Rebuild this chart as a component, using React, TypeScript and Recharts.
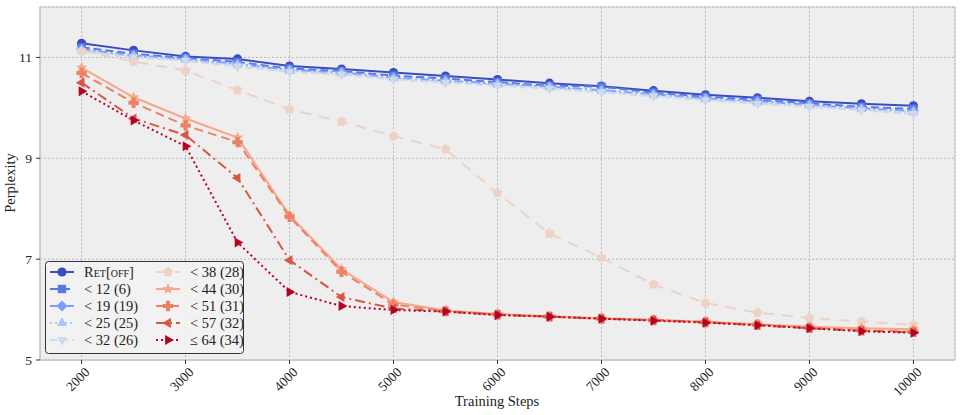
import React from 'react';
import { LineChart, Line, XAxis, YAxis, CartesianGrid, ReferenceArea } from 'recharts';

// training steps on the x axis
const steps = [2000, 2500, 3000, 3500, 4000, 4500, 5000, 5500, 6000, 6500, 7000, 7500, 8000, 8500, 9000, 9500, 10000];
const xTicks = [2000, 3000, 4000, 5000, 6000, 7000, 8000, 9000, 10000];
const yTicks = [5, 7, 9, 11];

// perplexity per series
const retOff = [11.28, 11.14, 11.02, 10.97, 10.83, 10.77, 10.7, 10.63, 10.56, 10.49, 10.43, 10.34, 10.26, 10.2, 10.13, 10.08, 10.04];
const lt12 = [11.2, 11.07, 10.99, 10.91, 10.78, 10.73, 10.64, 10.58, 10.51, 10.44, 10.42, 10.3, 10.22, 10.16, 10.09, 10.02, 9.98];
const lt19 = [11.16, 11.04, 10.97, 10.87, 10.75, 10.7, 10.6, 10.54, 10.48, 10.42, 10.35, 10.27, 10.19, 10.13, 10.06, 9.99, 9.94];
const lt25 = [11.14, 11.02, 10.95, 10.85, 10.73, 10.68, 10.58, 10.52, 10.46, 10.4, 10.33, 10.25, 10.17, 10.1, 10.04, 9.97, 9.91];
const lt32 = [11.12, 11.0, 10.93, 10.82, 10.71, 10.66, 10.56, 10.5, 10.44, 10.38, 10.31, 10.23, 10.15, 10.08, 10.02, 9.95, 9.88];
const lt38 = [11.12, 10.92, 10.74, 10.35, 9.97, 9.73, 9.44, 9.18, 8.31, 7.51, 7.03, 6.5, 6.13, 5.94, 5.83, 5.76, 5.7];
const lt44 = [10.8, 10.21, 9.79, 9.41, 7.87, 6.8, 6.15, 5.98, 5.91, 5.87, 5.83, 5.8, 5.76, 5.71, 5.66, 5.63, 5.61];
const lt51 = [10.69, 10.1, 9.65, 9.32, 7.84, 6.75, 6.1, 5.97, 5.9, 5.86, 5.82, 5.79, 5.75, 5.7, 5.64, 5.59, 5.56];
const lt57 = [10.5, 9.79, 9.46, 8.61, 6.98, 6.25, 6.02, 5.96, 5.9, 5.86, 5.82, 5.79, 5.75, 5.69, 5.63, 5.58, 5.55];
const le64 = [10.33, 9.75, 9.24, 7.33, 6.35, 6.07, 5.99, 5.96, 5.89, 5.86, 5.82, 5.78, 5.74, 5.69, 5.63, 5.57, 5.54];

type Shape = 'circle' | 'square' | 'diamond' | 'triUp' | 'triDown' | 'pentagon' | 'star' | 'plus' | 'triLeft' | 'triRight';

interface Series {
  key: string;
  label: React.ReactNode;
  values: number[];
  color: string;
  dash?: string;
  shape: Shape;
}

const SERIES: Series[] = [
  { key: 'retOff', label: <tspan style={{ fontVariant: 'small-caps' }}>Ret[off]</tspan>, values: retOff, color: '#3b4cc0', shape: 'circle' },
  { key: 'lt12', label: '< 12 (6)', values: lt12, color: '#5a78e4', dash: '8 4', shape: 'square' },
  { key: 'lt19', label: '< 19 (19)', values: lt19, color: '#7b9ff9', dash: '9 3 2 3', shape: 'diamond' },
  { key: 'lt25', label: '< 25 (25)', values: lt25, color: '#aac7fd', dash: '2 3', shape: 'triUp' },
  { key: 'lt32', label: '< 32 (26)', values: lt32, color: '#cfdaea', dash: '7 4', shape: 'triDown' },
  { key: 'lt38', label: '< 38 (28)', values: lt38, color: '#ecd3c5', dash: '11 8', shape: 'pentagon' },
  { key: 'lt44', label: '< 44 (30)', values: lt44, color: '#f6a789', shape: 'star' },
  { key: 'lt51', label: '< 51 (31)', values: lt51, color: '#ec8165', dash: '9 5', shape: 'plus' },
  { key: 'lt57', label: '< 57 (32)', values: lt57, color: '#d85646', dash: '10 4 2 4', shape: 'triLeft' },
  { key: 'le64', label: '\u2264 64 (34)', values: le64, color: '#b40426', dash: '2 3', shape: 'triRight' },
];

const data = steps.map((step, i) => {
  const row: Record<string, number> = { step };
  SERIES.forEach((s) => {
    row[s.key] = s.values[i];
  });
  return row;
});

const FONT = '"Liberation Serif", "DejaVu Serif", serif';

function poly(cx: number, cy: number, n: number, r: number, rot: number, inner?: number) {
  const pts: string[] = [];
  const count = inner ? n * 2 : n;
  for (let k = 0; k < count; k++) {
    const rad = inner && k % 2 === 1 ? inner : r;
    const a = rot + (k * 2 * Math.PI) / count;
    pts.push(`${cx + rad * Math.cos(a)},${cy + rad * Math.sin(a)}`);
  }
  return pts.join(' ');
}

function marker(shape: Shape, cx: number, cy: number, color: string) {
  const up = -Math.PI / 2;
  switch (shape) {
    case 'circle':
      return <circle cx={cx} cy={cy} r={4.6} fill={color} />;
    case 'square':
      return <rect x={cx - 4.2} y={cy - 4.2} width={8.4} height={8.4} fill={color} />;
    case 'diamond':
      return <polygon points={poly(cx, cy, 4, 5.6, up)} fill={color} />;
    case 'triUp':
      return <polygon points={poly(cx, cy, 3, 5.8, up)} fill={color} />;
    case 'triDown':
      return <polygon points={poly(cx, cy, 3, 5.8, Math.PI / 2)} fill={color} />;
    case 'triLeft':
      return <polygon points={poly(cx, cy, 3, 5.8, Math.PI)} fill={color} />;
    case 'triRight':
      return <polygon points={poly(cx, cy, 3, 5.8, 0)} fill={color} />;
    case 'pentagon':
      return <polygon points={poly(cx, cy, 5, 5.2, up)} fill={color} />;
    case 'star':
      return <polygon points={poly(cx, cy, 5, 6, up, 2.6)} fill={color} />;
    case 'plus': {
      const a = 5.2;
      const b = 2;
      const pts = [
        [-b, -a], [b, -a], [b, -b], [a, -b], [a, b], [b, b],
        [b, a], [-b, a], [-b, b], [-a, b], [-a, -b], [-b, -b],
      ].map(([dx, dy]) => `${cx + dx},${cy + dy}`).join(' ');
      return <polygon points={pts} fill={color} />;
    }
    default:
      return null;
  }
}

const XTick = ({ x, y, payload }: any) => (
  <g transform={`translate(${x + 9},${y + 7}) rotate(-45)`}>
    <text x={0} y={0} textAnchor="end" fontFamily={FONT} fontSize={13.5} fill="#222">
      {payload.value}
    </text>
  </g>
);

const YTick = ({ x, y, payload }: any) => (
  <text x={x - 2} y={y + 4.5} textAnchor="end" fontFamily={FONT} fontSize={13.5} fill="#222">
    {payload.value}
  </text>
);

function LegendBox() {
  const rows = 5;
  return (
    <svg width={200} height={94} style={{ position: 'absolute', left: 45, top: 261 }}>
      <rect x={0.5} y={0.5} width={198} height={92} rx={3} fill="#f2f2f2" fillOpacity={0.9} stroke="#333" strokeWidth={1} />
      {SERIES.map((s, i) => {
        const col = Math.floor(i / rows);
        const row = i % rows;
        const x0 = col === 0 ? 5 : 111;
        const ly = 11 + row * 17;
        return (
          <g key={s.key}>
            <line x1={x0} x2={x0 + 24} y1={ly} y2={ly} stroke={s.color} strokeWidth={2} strokeDasharray={s.dash} />
            {marker(s.shape, x0 + 12, ly, s.color)}
            <text x={x0 + 34} y={ly + 4.5} fontFamily={FONT} fontSize={14.5} fill="#222">
              {s.label}
            </text>
          </g>
        );
      })}
    </svg>
  );
}

function AxisTitles() {
  return (
    <svg width={961} height={415} style={{ position: 'absolute', left: 0, top: 0, pointerEvents: 'none' }}>
      <text x={497} y={406} textAnchor="middle" fontFamily={FONT} fontSize={14.5} fill="#222">
        Training Steps
      </text>
      <text x={15} y={183} transform="rotate(-90 15 183)" textAnchor="middle" fontFamily={FONT} fontSize={14.5} fill="#222">
        Perplexity
      </text>
    </svg>
  );
}

export default function App() {
  return (
    <div style={{ position: 'absolute', left: 0, top: 0, width: 961, height: 415, background: '#fff' }}>
      <LineChart width={961} height={415} data={data} margin={{ top: 7, right: 6, bottom: 0, left: 0 }}>
        <CartesianGrid stroke="#b8b8b8" strokeDasharray="2 2" fill="#eeeeee" />
        <ReferenceArea x1={1600} x2={10400} y1={5} y2={12} fill="none" stroke="#c4c4c4" strokeWidth={1} />
        <XAxis
          dataKey="step"
          type="number"
          domain={[1600, 10400]}
          ticks={xTicks}
          allowDataOverflow
          height={55}
          tick={<XTick />}
          tickSize={4}
          tickLine={{ stroke: '#333' }}
          axisLine={{ stroke: '#c4c4c4' }}
        />
        <YAxis
          type="number"
          domain={[5, 12]}
          ticks={yTicks}
          allowDataOverflow
          width={40}
          tick={<YTick />}
          tickSize={4}
          tickLine={{ stroke: '#333' }}
          axisLine={{ stroke: '#c4c4c4' }}
        />
        {SERIES.map((s) => (
          <Line
            key={s.key}
            dataKey={s.key}
            stroke={s.color}
            strokeWidth={2}
            strokeDasharray={s.dash}
            isAnimationActive={false}
            activeDot={false}
            dot={(p: any) => <g key={`${s.key}-${p.index}`}>{marker(s.shape, p.cx, p.cy, s.color)}</g>}
          />
        ))}
      </LineChart>
      <AxisTitles />
      <LegendBox />
    </div>
  );
}
